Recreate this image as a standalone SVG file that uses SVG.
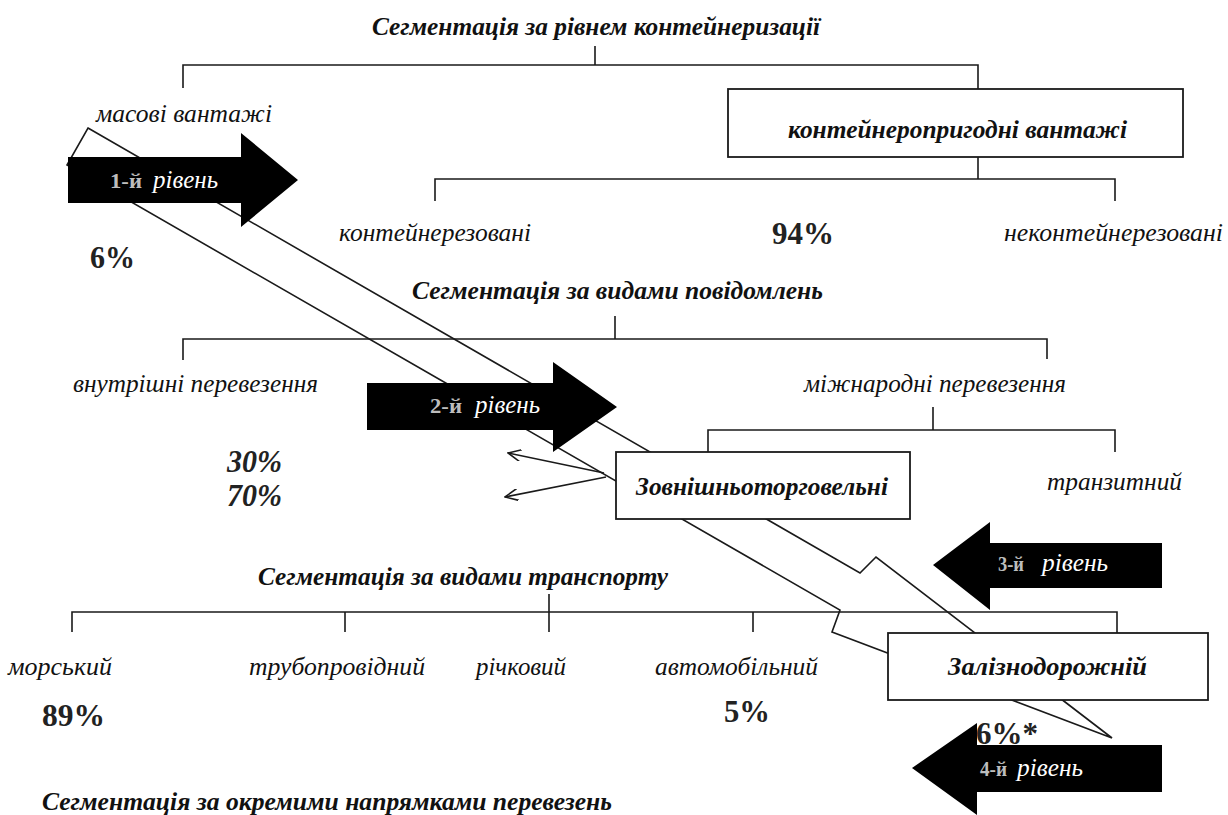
<svg xmlns="http://www.w3.org/2000/svg" width="1228" height="815" viewBox="0 0 1228 815">
<defs>
<style>
.ln{stroke:#1a1a1a;stroke-width:1.6;fill:none}
.box{fill:#fff;stroke:#1a1a1a;stroke-width:1.8}
.blk{fill:#000}
</style>
<marker id="open" viewBox="0 0 14 12" refX="13" refY="6" markerWidth="14" markerHeight="12" markerUnits="userSpaceOnUse" orient="auto">
<path d="M0,0 L13,6 L0,12" fill="none" stroke="#1a1a1a" stroke-width="1.6"/>
</marker>
</defs>
<rect width="1228" height="815" fill="#fff"/>

<g id="connectors">
<path class="ln" d="M595,46 V65 M183,88 V65 H978 V89"/>
<path class="ln" d="M978,157 V179 M435,201 V179 H1115 V201"/>
<path class="ln" d="M615,316 V339 M183,360 V339 H1047 V359"/>
<path class="ln" d="M933,407 V430 M708,452 V430 H1115 V452"/>
<path class="ln" d="M549,594 V632 M72,632 V612 H1117 V633 M345,612 V632 M753,612 V632"/>
<path class="ln" d="M88,128 L860,573 L876,557 L1112,738 L832,632 L840,610 L67,165 Z"/>
<path class="ln" d="M604,473 L508,453" marker-end="url(#open)"/>
<path class="ln" d="M606,477 L505,497" marker-end="url(#open)"/>
</g>

<g font-family="Liberation Serif, serif">
<g id="level1">
<path class="blk" d="M68,157 H241 V133 L298,180 L241,227 V203 H68 Z"/>
<text font-weight="bold" font-size="21" fill="#bdbdbd" x="110" y="188" textLength="32" lengthAdjust="spacingAndGlyphs">1-й</text>
<text font-style="italic" font-size="25" fill="#fff" x="153" y="188" textLength="65" lengthAdjust="spacingAndGlyphs">рівень</text>
</g>
<g id="level2">
<path class="blk" d="M367,383 H553 V362 L617,407 L553,452 V430 H367 Z"/>
<text font-weight="bold" font-size="21" fill="#bdbdbd" x="430" y="413" textLength="32" lengthAdjust="spacingAndGlyphs">2-й</text>
<text font-style="italic" font-size="25" fill="#fff" x="475" y="413" textLength="65" lengthAdjust="spacingAndGlyphs">рівень</text>
</g>
<g id="level3">
<path class="blk" d="M1162,543 H990 V522 L933,565 L990,610 V588 H1162 Z"/>
<text font-weight="bold" font-size="21" fill="#bdbdbd" x="998" y="571" textLength="26" lengthAdjust="spacingAndGlyphs">3-й</text>
<text font-style="italic" font-size="25" fill="#fff" x="1042" y="571" textLength="66" lengthAdjust="spacingAndGlyphs">рівень</text>
</g>
<g id="level4">
<path class="blk" d="M1162,745 H977 V723 L912,768 L977,815 V792 H1162 Z"/>
<text font-weight="bold" font-size="21" fill="#bdbdbd" x="980" y="776" textLength="27" lengthAdjust="spacingAndGlyphs">4-й</text>
<text font-style="italic" font-size="25" fill="#fff" x="1017" y="776" textLength="66" lengthAdjust="spacingAndGlyphs">рівень</text>
</g>

<g font-style="italic" font-weight="bold" font-size="25" fill="#111">
<g id="title1"><text x="372" y="35" textLength="448" lengthAdjust="spacingAndGlyphs">Сегментація за рівнем контейнеризації</text></g>
<g id="title2"><text x="412" y="299" textLength="411" lengthAdjust="spacingAndGlyphs">Сегментація за видами повідомлень</text></g>
<g id="title3"><text x="258" y="585" textLength="410" lengthAdjust="spacingAndGlyphs">Сегментація за видами транспорту</text></g>
<g id="title4"><text x="42" y="810" textLength="570" lengthAdjust="spacingAndGlyphs">Сегментація за окремими напрямками перевезень</text></g>
</g>

<g font-style="italic" font-size="26" fill="#111">
<g id="mass"><text x="96" y="122" textLength="176" lengthAdjust="spacingAndGlyphs">масові вантажі</text></g>
<g id="containerized"><text x="339" y="241" textLength="192" lengthAdjust="spacingAndGlyphs">контейнерезовані</text></g>
<g id="noncontainerized"><text x="1004" y="241" textLength="219" lengthAdjust="spacingAndGlyphs">неконтейнерезовані</text></g>
<g id="domestic"><text x="73" y="392" textLength="245" lengthAdjust="spacingAndGlyphs">внутрішні перевезення</text></g>
<g id="international"><text x="804" y="392" textLength="262" lengthAdjust="spacingAndGlyphs">міжнародні перевезення</text></g>
<g id="transit"><text x="1047" y="490" textLength="135" lengthAdjust="spacingAndGlyphs">транзитний</text></g>
<g id="sea"><text x="8" y="675" textLength="104" lengthAdjust="spacingAndGlyphs">морський</text></g>
<g id="pipe"><text x="249" y="675" textLength="176" lengthAdjust="spacingAndGlyphs">трубопровідний</text></g>
<g id="river"><text x="476" y="675" textLength="90" lengthAdjust="spacingAndGlyphs">річковий</text></g>
<g id="road"><text x="655" y="675" textLength="163" lengthAdjust="spacingAndGlyphs">автомобільний</text></g>
</g>

<g font-weight="bold" font-size="31" fill="#222">
<g id="p94"><text x="772" y="244" textLength="62" lengthAdjust="spacingAndGlyphs">94%</text></g>
<g id="p6"><text x="90" y="268" textLength="45" lengthAdjust="spacingAndGlyphs">6%</text></g>
<g id="p30"><text font-style="italic" x="227" y="472" textLength="55" lengthAdjust="spacingAndGlyphs">30%</text></g>
<g id="p70"><text font-style="italic" x="227" y="506" textLength="55" lengthAdjust="spacingAndGlyphs">70%</text></g>
<g id="p89"><text x="42" y="726" textLength="63" lengthAdjust="spacingAndGlyphs">89%</text></g>
<g id="p5"><text x="724" y="722" textLength="46" lengthAdjust="spacingAndGlyphs">5%</text></g>
</g>

<g id="containerBox">
<rect class="box" x="728" y="89" width="455" height="68"/>
<text font-style="italic" font-weight="bold" font-size="25" fill="#111" x="788" y="138" textLength="339" lengthAdjust="spacingAndGlyphs">контейнеропригодні вантажі</text>
</g>
<g id="foreignTrade">
<rect class="box" x="616" y="452" width="294" height="67"/>
<text font-style="italic" font-weight="bold" font-size="25" fill="#111" x="636" y="495" textLength="252" lengthAdjust="spacingAndGlyphs">Зовнішньоторговельні</text>
</g>
<g id="rail">
<rect class="box" x="888" y="633" width="320" height="67"/>
<text font-style="italic" font-weight="bold" font-size="25" fill="#111" x="948" y="675" textLength="199" lengthAdjust="spacingAndGlyphs">Залізнодорожній</text>
</g>
<g id="p6star"><text font-weight="bold" font-size="31" fill="#222" x="976" y="744" textLength="62" lengthAdjust="spacingAndGlyphs">6%*</text></g>
</g>
</svg>
